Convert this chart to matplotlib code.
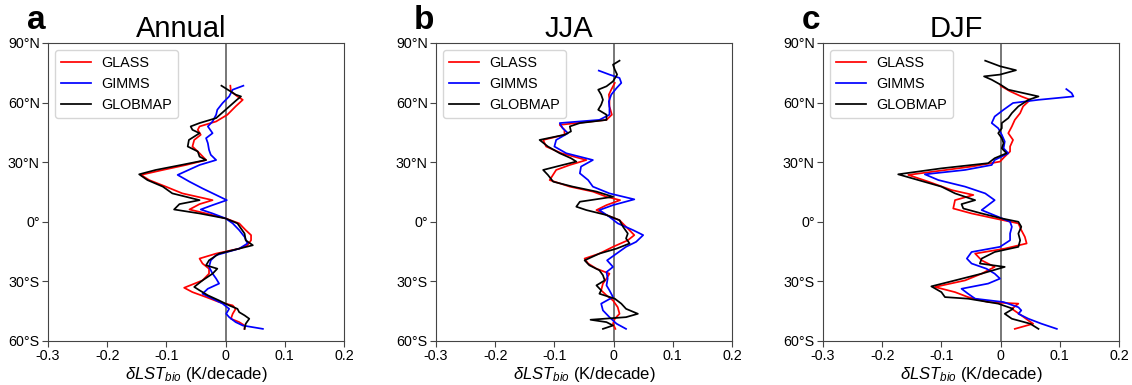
import matplotlib
matplotlib.use("Agg")
import matplotlib.pyplot as plt

plt.rcParams["font.family"] = ["Liberation Sans", "DejaVu Sans"]
plt.rcParams["mathtext.fontset"] = "custom"
plt.rcParams["mathtext.rm"] = "Liberation Sans"
plt.rcParams["mathtext.it"] = "Liberation Sans:italic"

# ---- Annual ----
ann_glass_lat = [68.5, 65.7, 63.1, 61.4, 58.1, 53.9, 50.5, 48.0, 46.3, 43.8, 41.2, 37.9, 34.5, 31.1,
                 28.6, 26.1, 23.6, 21.0, 17.7, 14.3, 10.9, 8.9, 6.2, 4.2, 1.7, -0.8, -4.2, -6.7,
                 -9.3, -11.8, -13.5, -16.0, -18.5, -21.0, -23.6, -26.1, -29.5, -33.2, -35.4, -37.9,
                 -40.4, -42.1, -43.8, -46.3, -48.8, -50.5, -52.2, -53.9]
ann_glass = [0.008, 0.009, 0.020, 0.029, 0.017, 0.003, -0.016, -0.044, -0.047, -0.042, -0.053, -0.056,
             -0.044, -0.033, -0.067, -0.106, -0.143, -0.129, -0.101, -0.073, -0.022, -0.044, -0.061,
             -0.033, 0.0, 0.023, 0.034, 0.043, 0.043, 0.037, 0.023, -0.016, -0.044, -0.039, -0.028,
             -0.028, -0.039, -0.070, -0.056, -0.033, -0.011, 0.012, 0.017, 0.012, 0.009, 0.023, 0.032,
             0.032]
ann_gimms_lat = [68.5, 66.5, 63.1, 59.8, 56.4, 53.9, 50.5, 48.0, 44.6, 42.1, 39.6, 36.2, 33.7, 31.1,
                 28.6, 23.6, 20.2, 16.8, 13.5, 10.9, 8.4, 6.2, 4.2, 1.7, -0.8, -4.2, -7.6, -10.9,
                 -13.5, -16.8, -19.4, -22.7, -26.1, -28.6, -31.1, -33.7, -36.2, -38.7, -41.2, -43.8,
                 -46.3, -48.0, -50.5, -52.2, -53.9]
ann_gimms = [0.030, 0.012, 0.006, -0.005, -0.014, -0.016, -0.022, -0.030, -0.022, -0.033, -0.030,
             -0.028, -0.025, -0.016, -0.044, -0.081, -0.061, -0.039, -0.016, 0.002, -0.022, -0.042,
             -0.022, 0.0, 0.012, 0.023, 0.032, 0.037, 0.023, -0.016, -0.025, -0.028, -0.022, -0.016,
             -0.011, -0.030, -0.039, -0.022, -0.005, 0.006, 0.001, 0.006, 0.017, 0.029, 0.063]
ann_globmap_lat = [68.5, 64.0, 63.1, 61.4, 56.4, 52.2, 49.7, 48.0, 46.3, 44.6, 41.2, 37.9, 35.4, 32.8,
                   31.1, 28.6, 26.1, 23.9, 21.0, 17.7, 14.3, 10.9, 8.9, 6.2, 4.2, 1.7, -0.8, -5.9,
                   -9.3, -11.8, -13.5, -16.0, -19.4, -21.9, -23.6, -26.1, -29.5, -32.8, -34.5, -37.0,
                   -39.6, -42.1, -43.8, -45.5, -47.1, -48.8, -51.3, -53.9]
ann_globmap = [-0.007, 0.017, 0.026, 0.019, 0.0, -0.016, -0.044, -0.059, -0.056, -0.044, -0.062,
               -0.064, -0.047, -0.044, -0.033, -0.075, -0.118, -0.146, -0.132, -0.106, -0.090, -0.044,
               -0.078, -0.087, -0.044, 0.0, 0.020, 0.032, 0.034, 0.046, 0.023, -0.011, -0.028, -0.033,
               -0.014, -0.022, -0.039, -0.053, -0.044, -0.030, -0.011, 0.006, 0.020, 0.023, 0.032,
               0.040, 0.034, 0.032]

# ---- JJA ----
jja_glass_lat = [69.9, 66.5, 64.0, 61.4, 58.1, 53.9, 51.3, 48.8, 46.3, 43.8, 41.2, 37.9, 34.5, 31.1,
                 28.6, 26.1, 21.0, 17.7, 15.2, 12.6, 10.9, 8.4, 5.9, 3.4, 0.8, -2.5, -6.7, -9.3,
                 -12.6, -16.0, -18.5, -21.0, -23.6, -26.1, -28.6, -31.1, -34.5, -37.0, -39.6, -43.0,
                 -46.3, -48.8, -51.3, -53.9]
jja_glass = [0.002, -0.004, -0.008, -0.007, -0.007, -0.003, -0.012, -0.091, -0.083, -0.083, -0.119,
             -0.114, -0.088, -0.046, -0.074, -0.097, -0.108, -0.074, -0.035, -0.012, 0.011, -0.012,
             -0.029, -0.012, 0.010, 0.021, 0.035, 0.024, -0.001, -0.024, -0.049, -0.043, -0.029,
             -0.007, -0.012, -0.018, -0.021, -0.012, -0.001, 0.007, 0.010, 0.002, -0.001, 0.003]
jja_gimms_lat = [76.1, 74.1, 72.4, 69.9, 67.3, 64.0, 60.6, 57.2, 53.9, 51.3, 49.7, 47.1, 44.6, 41.2,
                 37.9, 34.5, 31.1, 27.8, 24.4, 21.0, 17.7, 14.3, 11.3, 8.4, 5.9, 2.5, -0.8, -4.2,
                 -6.7, -10.1, -12.6, -16.0, -19.4, -22.7, -25.3, -28.6, -32.0, -34.5, -37.9, -41.2,
                 -44.6, -48.0, -51.3, -53.9]
jja_gimms = [-0.025, -0.007, 0.010, 0.013, 0.005, -0.004, -0.008, -0.007, -0.007, -0.024, -0.091,
             -0.086, -0.077, -0.097, -0.100, -0.080, -0.035, -0.055, -0.057, -0.043, -0.035, -0.007,
             0.035, -0.001, -0.024, -0.007, 0.007, 0.033, 0.050, 0.038, 0.021, 0.005, -0.011,
             -0.001, -0.012, -0.010, -0.012, -0.007, -0.001, -0.021, -0.018, -0.007, 0.005, 0.021]
jja_globmap_lat = [81.1, 79.1, 76.6, 74.1, 70.7, 68.2, 66.5, 64.0, 61.4, 58.9, 56.4, 53.9, 51.3, 49.7,
                   48.0, 45.5, 43.8, 41.2, 37.9, 34.5, 32.0, 30.3, 28.6, 26.1, 23.6, 20.2, 17.7, 15.2,
                   12.6, 10.1, 7.6, 5.9, 3.4, 0.8, -2.5, -5.9, -8.4, -10.9, -13.5, -16.0, -19.4,
                   -21.9, -24.4, -26.9, -29.5, -32.0, -34.5, -36.2, -38.7, -41.2, -43.8, -46.3, -48.0,
                   -49.3, -50.5, -52.2, -53.9]
jja_globmap = [0.010, -0.001, 0.002, 0.006, -0.001, -0.012, -0.026, -0.021, -0.018, -0.021, -0.026,
               -0.012, -0.012, -0.057, -0.074, -0.072, -0.083, -0.125, -0.111, -0.091, -0.072, -0.063,
               -0.086, -0.119, -0.111, -0.102, -0.069, -0.029, -0.001, -0.057, -0.063, -0.046, -0.012,
               0.010, 0.016, 0.024, 0.021, 0.027, 0.005, -0.024, -0.049, -0.041, -0.024, -0.018,
               -0.015, -0.029, -0.021, -0.024, 0.002, 0.013, 0.021, 0.041, 0.021, -0.039, -0.012,
               -0.001, -0.018]

# ---- DJF ----
djf_glass_lat = [68.5, 65.7, 63.1, 61.4, 58.1, 54.7, 51.3, 48.0, 44.6, 41.2, 37.9, 35.4, 32.8, 30.3,
                 27.8, 23.6, 20.2, 16.0, 13.5, 10.9, 6.7, 4.2, 1.7, -0.8, -4.2, -7.6, -10.9, -13.5,
                 -16.0, -19.4, -22.7, -26.1, -29.5, -32.8, -35.4, -37.9, -40.4, -41.2, -43.8, -47.1,
                 -49.7, -51.3, -53.9]
djf_glass = [0.0, 0.016, 0.035, 0.050, 0.038, 0.033, 0.024, 0.019, 0.013, 0.021, 0.016, 0.016, 0.007,
             -0.001, -0.049, -0.156, -0.122, -0.083, -0.046, -0.077, -0.080, -0.049, -0.010, 0.030,
             0.035, 0.041, 0.044, 0.007, -0.043, -0.032, -0.010, -0.032, -0.060, -0.111, -0.077,
             -0.055, -0.021, 0.030, 0.019, 0.035, 0.047, 0.055, 0.024]
djf_gimms_lat = [66.8, 64.8, 63.1, 61.4, 59.8, 56.4, 53.0, 49.7, 47.1, 43.8, 40.4, 37.0, 34.5, 31.1,
                 28.6, 26.1, 23.9, 21.0, 17.7, 14.3, 10.9, 8.4, 5.9, 2.5, 0.0, -2.5, -5.9, -9.3,
                 -12.6, -15.2, -18.5, -21.0, -23.6, -26.1, -28.6, -31.1, -33.7, -36.2, -38.7, -40.4,
                 -43.0, -44.6, -46.3, -48.8, -51.3, -53.9]
djf_gimms = [0.111, 0.120, 0.123, 0.064, 0.021, 0.005, -0.010, -0.015, -0.004, 0.002, 0.007, 0.005,
             0.013, -0.010, -0.015, -0.060, -0.128, -0.105, -0.060, -0.026, -0.010, -0.021, -0.032,
             -0.004, 0.016, 0.019, 0.016, 0.016, -0.001, -0.049, -0.057, -0.049, -0.024, -0.010,
             -0.001, -0.021, -0.066, -0.055, -0.043, 0.005, 0.030, 0.035, 0.030, 0.047, 0.069, 0.095]
djf_globmap_lat = [81.1, 78.3, 76.3, 74.1, 73.2, 71.5, 69.0, 66.5, 63.1, 61.4, 58.1, 54.7, 52.2, 49.7,
                   47.1, 44.6, 42.1, 39.6, 37.0, 34.5, 32.0, 29.5, 26.9, 23.9, 21.0, 17.7, 14.3, 10.9,
                   8.9, 6.7, 4.2, 1.7, 0.0, -2.5, -5.9, -9.3, -12.6, -15.2, -18.5, -21.0, -22.7,
                   -26.1, -29.5, -32.5, -35.4, -37.9, -38.7, -41.2, -43.8, -46.3, -48.8, -51.3, -53.9]
djf_globmap = [-0.026, -0.001, 0.026, -0.001, -0.028, -0.015, 0.0, 0.013, 0.064, 0.047, 0.030, 0.019,
               0.013, 0.002, 0.002, -0.004, 0.002, 0.005, 0.002, 0.010, -0.010, -0.021, -0.100,
               -0.173, -0.139, -0.100, -0.077, -0.043, -0.066, -0.063, -0.032, 0.002, 0.030, 0.035,
               0.030, 0.033, 0.030, -0.010, -0.032, -0.035, 0.007, -0.032, -0.077, -0.117, -0.100,
               -0.094, -0.055, -0.004, 0.021, 0.007, 0.019, 0.050, 0.064]

panels = [
    ("a", "Annual", (ann_glass_lat, ann_glass), (ann_gimms_lat, ann_gimms), (ann_globmap_lat, ann_globmap)),
    ("b", "JJA", (jja_glass_lat, jja_glass), (jja_gimms_lat, jja_gimms), (jja_globmap_lat, jja_globmap)),
    ("c", "DJF", (djf_glass_lat, djf_glass), (djf_gimms_lat, djf_gimms), (djf_globmap_lat, djf_globmap)),
]
series_names = ["GLASS", "GIMMS", "GLOBMAP"]
series_colors = ["red", "blue", "black"]

xticks = [-0.3, -0.2, -0.1, 0, 0.1, 0.2]
xtick_labels = ["-0.3", "-0.2", "-0.1", "0", "0.1", "0.2"]
yticks = [90, 60, 30, 0, -30, -60]
ytick_labels = ["90°N", "60°N", "30°N", "0°", "30°S", "60°S"]

fig = plt.figure(figsize=(11.32, 3.85), dpi=100)
lefts = [48, 436, 823]
for left, (letter, title, *series) in zip(lefts, panels):
    ax = fig.add_axes([left / 1132, 44 / 385, 296 / 1132, 298 / 385])
    ax.axvline(0, color="#777777", lw=1.4, zorder=1)
    for (lat, val), name, color in zip(series, series_names, series_colors):
        ax.plot(val, lat, color=color, lw=1.25, label=name, zorder=2)
    ax.set_xlim(-0.3, 0.2)
    ax.set_ylim(-60, 90)
    ax.set_xticks(xticks)
    ax.set_xticklabels(xtick_labels)
    ax.set_yticks(yticks)
    ax.set_yticklabels(ytick_labels)
    ax.tick_params(labelsize=10.3, color="#444444", length=4, pad=2)
    for s in ax.spines.values():
        s.set_color("#444444")
    ax.set_xlabel(r"$\delta LST_{bio}$ (K/decade)", fontsize=12, labelpad=1)
    ax.set_title(title, fontsize=21, x=0.45, pad=4)
    ax.text(-0.04, 1.025, letter, transform=ax.transAxes, fontsize=24, fontweight="bold",
            ha="center", va="bottom")
    ax.legend(loc="upper left", fontsize=10.4, frameon=True, handlelength=2.1,
              handletextpad=0.7, borderaxespad=0.5, labelspacing=0.5)

fig.savefig("out.png", dpi=100)
